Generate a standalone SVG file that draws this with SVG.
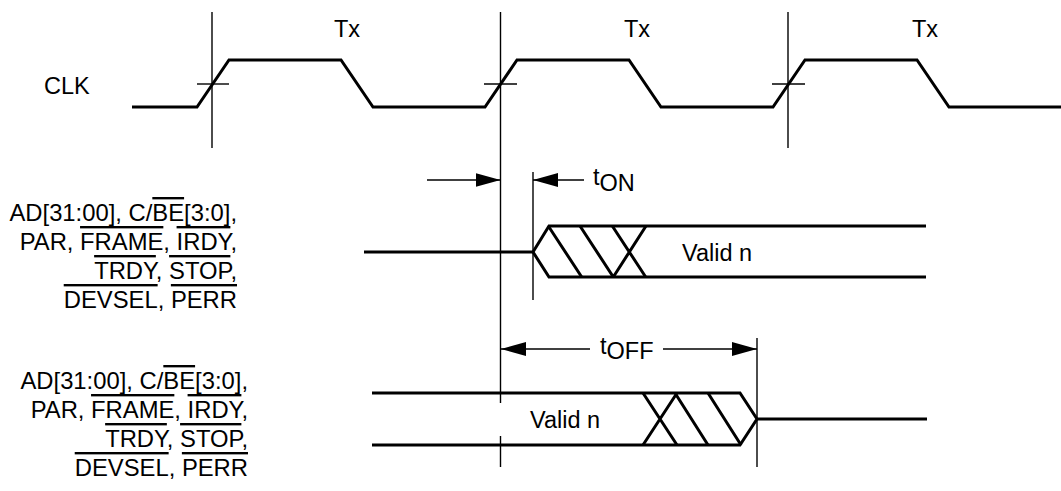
<svg xmlns="http://www.w3.org/2000/svg" width="1061" height="491" viewBox="0 0 1061 491">
  <style>
    text { font-family: "Liberation Sans", Arial, sans-serif; font-size: 23.5px; fill: #000; }
    .lbl { font-size: 23.8px; }
    .sig { fill: none; stroke: #000; stroke-width: 3; stroke-linejoin: miter; }
    .thin { fill: none; stroke: #000; stroke-width: 1.4; }
    .ov { text-decoration: overline; }
  </style>
  <defs>
    <marker id="arr" markerUnits="userSpaceOnUse" markerWidth="25" markerHeight="14" refX="25" refY="7" orient="auto">
      <path d="M0,0 L25,7 L0,14 z" fill="#000"/>
    </marker>
  </defs>
  <rect width="1061" height="491" fill="#fff"/>

  <g id="connectors">
    <line class="thin" x1="212" y1="12" x2="212" y2="148"/>
    <line class="thin" x1="500.5" y1="12" x2="500.5" y2="467"/>
    <line class="thin" x1="788" y1="12" x2="788" y2="148"/>
    <line class="thin" x1="197" y1="84" x2="229" y2="84"/>
    <line class="thin" x1="484" y1="84" x2="517" y2="84"/>
    <line class="thin" x1="772" y1="84" x2="805" y2="84"/>
    <line class="thin" x1="533" y1="172" x2="533" y2="300"/>
    <line class="thin" x1="757" y1="338" x2="757" y2="467"/>
    <line class="thin" x1="427" y1="180" x2="500.5" y2="180" marker-end="url(#arr)"/>
    <line class="thin" x1="584" y1="180" x2="533" y2="180" marker-end="url(#arr)"/>
    <line class="thin" x1="590" y1="349" x2="501" y2="349" marker-end="url(#arr)"/>
    <line class="thin" x1="663" y1="349" x2="757" y2="349" marker-end="url(#arr)"/>
    <text x="593" y="185">t<tspan dy="5.5">ON</tspan></text>
    <text x="600" y="353.5">t<tspan dy="5.5">OFF</tspan></text>
  </g>

  <g id="clk">
    <text x="44" y="94">CLK</text>
    <path class="sig" d="M132,107 L197,107 L229,60 L341,60 L373,107 L485,107 L517,60 L629,60 L661,107 L773,107 L805,60 L917,60 L949,107 L1061,107"/>
    <text x="347" y="37" text-anchor="middle">Tx</text>
    <text x="637" y="37" text-anchor="middle">Tx</text>
    <text x="925" y="37" text-anchor="middle">Tx</text>
  </g>

  <g id="bus-on">
    <text class="lbl" x="237" y="221" text-anchor="end">AD[31:00], C/<tspan class="ov">BE</tspan>[3:0],</text>
    <text class="lbl" x="237" y="250" text-anchor="end">PAR, <tspan class="ov">FRAME</tspan>, <tspan class="ov">IRDY</tspan>,</text>
    <text class="lbl" x="237" y="279" text-anchor="end"><tspan class="ov">TRDY</tspan>, <tspan class="ov">STOP</tspan>,</text>
    <text class="lbl" x="237" y="308" text-anchor="end"><tspan class="ov">DEVSEL</tspan>, <tspan class="ov">PERR</tspan></text>
    <path class="sig" d="M364,252 L533,252 L549,226 L926,226 M533,252 L549,277 L926,277"/>
    <path class="sig" d="M548.3,226 L581.7,277 M580,226 L613.3,277 M612.3,226 L645.7,277 M613.3,277 L646,226"/>
    <text x="682" y="261">Valid n</text>
  </g>

  <g id="bus-off">
    <text class="lbl" x="248" y="389" text-anchor="end">AD[31:00], C/<tspan class="ov">BE</tspan>[3:0],</text>
    <text class="lbl" x="248" y="418" text-anchor="end">PAR, <tspan class="ov">FRAME</tspan>, <tspan class="ov">IRDY</tspan>,</text>
    <text class="lbl" x="248" y="447" text-anchor="end"><tspan class="ov">TRDY</tspan>, <tspan class="ov">STOP</tspan>,</text>
    <text class="lbl" x="248" y="476" text-anchor="end"><tspan class="ov">DEVSEL</tspan>, <tspan class="ov">PERR</tspan></text>
    <rect x="492" y="403" width="118" height="33" fill="#fff"/>
    <path class="sig" d="M372,393 L740,393 L757,419 L740,445 L372,445 M757,419 L927,419"/>
    <path class="sig" d="M643,393 L677,445 M643,445 L677,393 M675,393 L708,445 M708,393 L741,445"/>
    <text x="530" y="428">Valid n</text>
  </g>
</svg>
